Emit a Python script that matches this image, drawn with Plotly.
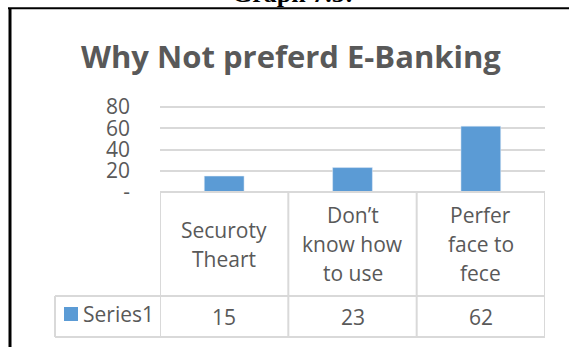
import plotly.graph_objects as go

# ---- data ----
categories = ["Securoty<br>Theart", "Don’t<br>know how<br>to use", "Perfer<br>face to<br>fece"]
series_name = "Series1"
values = [15, 23, 62]
y_tickvals = [0, 20, 40, 60, 80]
y_ticktext = ["-", "20", "40", "60", "80"]
chart_title = "Why Not preferd E-Banking"
caption = "Graph 7.5:"

W, H = 569, 347
OFF = 0  # page body margin removed via post_script
FONT = "Open Sans"
TXT = "#595959"
GRID = "#d9d9d9"
BAR = "#5b9bd5"
FS = 21
YMAX = 82


def py(p):
    return 1 - (p - OFF) / H


def px(p):
    return (p - OFF) / W


x_idx = list(range(len(categories)))

fig = go.Figure()
fig.add_trace(go.Bar(x=x_idx, y=values, name=series_name, marker_color=BAR,
                     width=0.31, showlegend=False))

plot_left, plot_right = 160, 545
plot_bottom = 192
plot_top = plot_bottom - (192 - 107) * YMAX / 80
table_mid, table_bottom = 296, 337
legend_left = 55

fig.update_layout(
    width=W, height=H,
    margin=dict(l=0, r=0, t=0, b=0, autoexpand=False),
    paper_bgcolor="white", plot_bgcolor="white",
    font=dict(family=FONT, color=TXT, size=FS),
    xaxis=dict(domain=[px(plot_left), px(plot_right)], range=[-0.5, len(categories) - 0.5],
               showticklabels=False, showgrid=False, zeroline=False, fixedrange=True,
               automargin=False),
    yaxis=dict(domain=[py(plot_bottom), py(plot_top)], range=[0, YMAX],
               tickvals=y_tickvals, ticktext=y_ticktext, showgrid=True, gridcolor=GRID,
               gridwidth=1.5, zeroline=False, showline=False, automargin=False,
               tickfont=dict(size=FS, color=TXT, family=FONT), ticklabelstandoff=29),
    bargap=0.69,
)

shapes = []
line = dict(color=GRID, width=2)
# table horizontal lines
shapes.append(dict(type="line", xref="x", yref="paper", x0=-0.5, x1=len(categories) - 0.5,
                   y0=py(plot_bottom), y1=py(plot_bottom), line=line))
for yy in (table_mid, table_bottom):
    shapes.append(dict(type="line", xref="paper", yref="paper", x0=px(legend_left), x1=px(plot_right),
                       y0=py(yy), y1=py(yy), line=line))
# vertical lines
for i in range(len(categories) + 1):
    shapes.append(dict(type="line", xref="x", yref="paper", x0=i - 0.5, x1=i - 0.5,
                       y0=py(plot_bottom), y1=py(table_bottom), line=line))
shapes.append(dict(type="line", xref="paper", yref="paper", x0=px(legend_left), x1=px(legend_left),
                   y0=py(table_mid), y1=py(table_bottom), line=line))
# legend key
shapes.append(dict(type="rect", xref="paper", yref="paper", x0=px(64), x1=px(78),
                   y0=py(321), y1=py(307), fillcolor=BAR, line=dict(width=0)))
# outer frame (black)
shapes.append(dict(type="line", xref="paper", yref="paper", x0=px(8), x1=1.0,
                   y0=py(8.3), y1=py(8.3), line=dict(color="black", width=2)))
shapes.append(dict(type="line", xref="paper", yref="paper", x0=px(10), x1=px(10),
                   y0=py(8), y1=0.0, line=dict(color="black", width=3)))
fig.update_layout(shapes=shapes)

ann = []
ann.append(dict(text=chart_title, xref="paper", yref="paper", x=px(291), y=py(56),
                showarrow=False, xanchor="center", yanchor="middle",
                font=dict(size=31, color=TXT, family=FONT, weight="bold")))
ann.append(dict(text="<b>" + caption + "</b>", xref="paper", yref="paper", x=px(293), y=py(9.6),
                showarrow=False, xanchor="center", yanchor="bottom",
                font=dict(size=26, color="black", family="Liberation Serif")))
cell_center = (plot_bottom + table_mid) / 2
spacing = 29
for i, cat in enumerate(categories):
    lines = cat.split("<br>")
    n = len(lines)
    for j, ln in enumerate(lines):
        yy = cell_center + (j - (n - 1) / 2) * spacing
        ann.append(dict(text=ln, xref="x", yref="paper", x=i, y=py(yy), showarrow=False,
                        xanchor="center", yanchor="middle", font=dict(size=FS, color=TXT)))
    ann.append(dict(text=str(values[i]), xref="x", yref="paper", x=i, y=py(317), showarrow=False,
                    xanchor="center", yanchor="middle", font=dict(size=FS, color=TXT)))
ann.append(dict(text=series_name, xref="paper", yref="paper", x=px(81), y=py(314), showarrow=False,
                xanchor="left", yanchor="middle", font=dict(size=FS, color=TXT)))
fig.update_layout(annotations=ann)

fig.write_html("out.html", config={"displayModeBar": False},
               post_script="document.body.style.margin='0';")
